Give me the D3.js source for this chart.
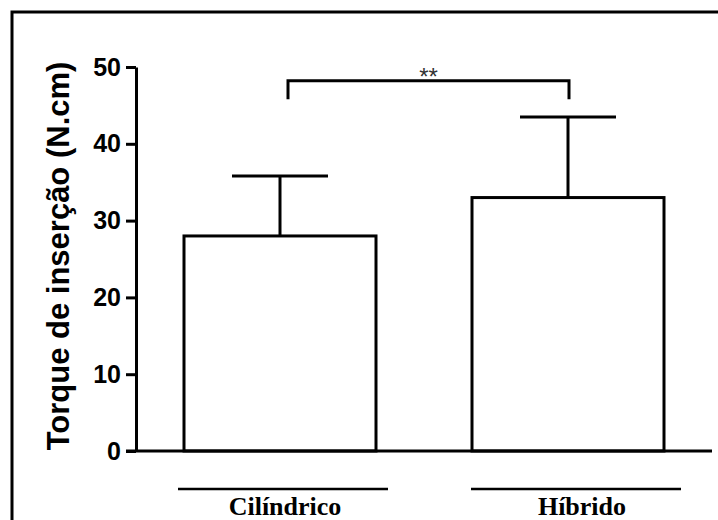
<!DOCTYPE html>
<html>
<head>
<meta charset="utf-8">
<script src="https://cdn.jsdelivr.net/npm/d3@7"></script>
<style>
  html, body { margin: 0; padding: 0; background: #fff; }
  svg { display: block; }
</style>
</head>
<body>
<svg id="chart" width="718" height="520"></svg>
<script>
// ---- data ----
const categories = ["Cilíndrico", "Híbrido"];
const means = [28.0, 33.0];
const errors = [7.8, 10.5];
const yTicks = [0, 10, 20, 30, 40, 50];
const yTitle = "Torque de inserção (N.cm)";
const sigLabel = "**";
const sigTop = 48.2;
const sigBottom = 45.8;

// ---- layout ----
const svg = d3.select("#chart");

// frame
svg.append("rect")
  .attr("x", 12).attr("y", 12)
  .attr("width", 730).attr("height", 540)
  .attr("fill", "none").attr("stroke", "#000").attr("stroke-width", 3);

const x = d3.scaleBand()
  .domain(categories)
  .range([136, 712])
  .paddingInner(1/3)
  .paddingOuter(1/6);

const y = d3.scaleLinear().domain([0, 50]).range([451, 67]);

const sw = 3;

// y axis
const yAxis = d3.axisLeft(y)
  .tickValues(yTicks)
  .tickSize(10)
  .tickSizeOuter(0)
  .tickPadding(5);

const gy = svg.append("g")
  .attr("transform", `translate(${x.range()[0]},0)`)
  .call(yAxis);
gy.select(".domain").attr("stroke-width", sw).attr("stroke", "#000");
gy.selectAll(".tick line").attr("stroke-width", sw).attr("stroke", "#000");
gy.selectAll(".tick text")
  .attr("font-family", "'Liberation Sans', Arial, sans-serif")
  .attr("font-weight", "bold")
  .attr("font-size", 25)
  .attr("fill", "#000");

// bars
const bw = x.bandwidth();
svg.selectAll("rect.bar")
  .data(categories)
  .join("rect")
  .attr("class", "bar")
  .attr("x", d => x(d))
  .attr("y", (d, i) => y(means[i]))
  .attr("width", bw)
  .attr("height", (d, i) => y(0) - y(means[i]))
  .attr("fill", "#fff")
  .attr("stroke", "#000")
  .attr("stroke-width", sw);

// error bars
const eg = svg.selectAll("g.err")
  .data(categories)
  .join("g")
  .attr("class", "err");
eg.append("line")
  .attr("x1", d => x(d) + bw / 2)
  .attr("x2", d => x(d) + bw / 2)
  .attr("y1", (d, i) => y(means[i]))
  .attr("y2", (d, i) => y(means[i] + errors[i]))
  .attr("stroke", "#000").attr("stroke-width", sw);
eg.append("line")
  .attr("x1", d => x(d) + bw / 4)
  .attr("x2", d => x(d) + bw * 3 / 4)
  .attr("y1", (d, i) => y(means[i] + errors[i]))
  .attr("y2", (d, i) => y(means[i] + errors[i]))
  .attr("stroke", "#000").attr("stroke-width", sw);

// x axis line
svg.append("line")
  .attr("x1", x.range()[0] - 10)
  .attr("x2", x.range()[1])
  .attr("y1", y(0)).attr("y2", y(0))
  .attr("stroke", "#000").attr("stroke-width", sw);

// significance bracket
const bx1 = x(categories[0]) + bw / 2 + 8;
const bx2 = x(categories[1]) + bw / 2 + 1;
svg.append("path")
  .attr("d", `M${bx1},${y(sigBottom)}V${y(sigTop)}H${bx2}V${y(sigBottom)}`)
  .attr("fill", "none").attr("stroke", "#000").attr("stroke-width", sw);
svg.append("text")
  .attr("x", (bx1 + bx2) / 2)
  .attr("y", y(sigTop) + 4)
  .attr("text-anchor", "middle")
  .attr("font-family", "'Liberation Sans', Arial, sans-serif")
  .attr("font-size", 24)
  .attr("fill", "#333")
  .text(sigLabel);

// category lines + labels
const lineOff = [3, 8];
const labelOff = [5, 14];
svg.selectAll("line.cat")
  .data(categories)
  .join("line")
  .attr("class", "cat")
  .attr("x1", (d, i) => x(d) + bw / 2 + lineOff[i] - 105)
  .attr("x2", (d, i) => x(d) + bw / 2 + lineOff[i] + 105)
  .attr("y1", 489).attr("y2", 489)
  .attr("stroke", "#000").attr("stroke-width", 2.5);
svg.selectAll("text.cat")
  .data(categories)
  .join("text")
  .attr("class", "cat")
  .attr("x", (d, i) => x(d) + bw / 2 + labelOff[i])
  .attr("y", 515)
  .attr("text-anchor", "middle")
  .attr("font-family", "'Liberation Serif', 'Times New Roman', serif")
  .attr("font-weight", "bold")
  .attr("font-size", 26)
  .attr("fill", "#000")
  .text(d => d);

// y title
svg.append("text")
  .attr("transform", `translate(68.5,256) rotate(-90)`)
  .attr("text-anchor", "middle")
  .attr("font-family", "'Liberation Sans', Arial, sans-serif")
  .attr("font-weight", "bold")
  .attr("font-size", 31)
  .attr("fill", "#000")
  .text(yTitle);
</script>
</body>
</html>
